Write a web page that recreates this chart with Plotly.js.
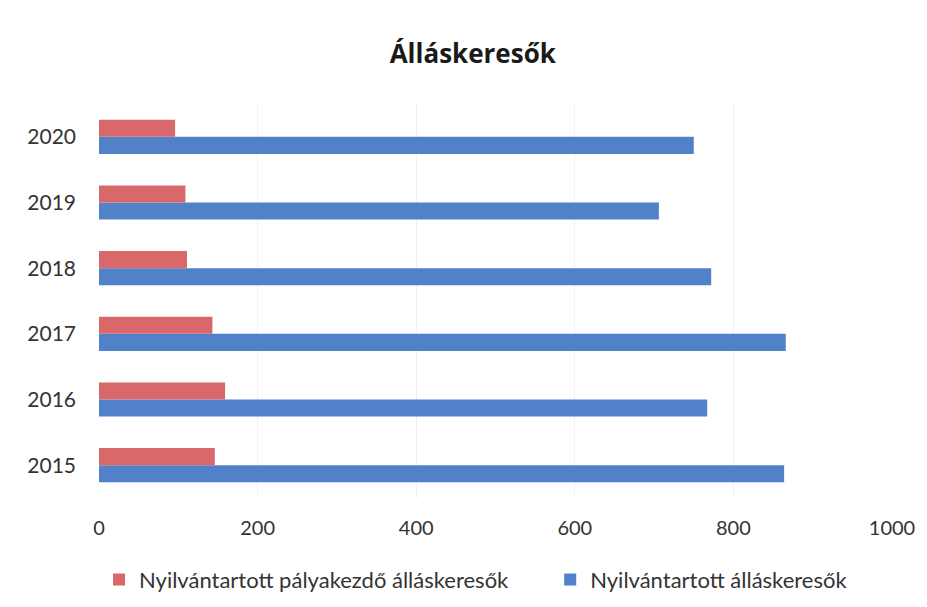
<!DOCTYPE html>
<html>
<head>
<meta charset="utf-8">
<script src="https://cdn.plot.ly/plotly-3.0.1.min.js"></script>
<style>html,body{margin:0;padding:0;background:#fff;}#chart{width:927px;height:607px;}</style>
</head>
<body>
<div id="chart"></div>
<script>
const years = ['2015', '2016', '2017', '2018', '2019', '2020'];
const palyakezdo = [146, 159, 143, 111, 109, 96];
const osszes = [864, 767, 866, 772, 706, 750];
const seriesNames = ['Nyilvántartott pályakezdő álláskeresők', 'Nyilvántartott álláskeresők'];
const xTicks = [0, 200, 400, 600, 800, 1000];

const font = "Lato, 'Open Sans', sans-serif";

const traces = [
  {
    type: 'bar', orientation: 'h', name: seriesNames[1], legend: 'legend2',
    y: years, x: osszes,
    marker: {color: '#5181C9'}, hoverinfo: 'x+y'
  },
  {
    type: 'bar', orientation: 'h', name: seriesNames[0], legend: 'legend',
    y: years, x: palyakezdo,
    marker: {color: '#D9686B'}, hoverinfo: 'x+y'
  }
];

const legendFont = {family: font, size: 22, color: '#333333'};

const layout = {
  width: 927, height: 607,
  paper_bgcolor: '#fff', plot_bgcolor: '#fff',
  margin: {l: 99, r: 35, t: 104, b: 109},
  barmode: 'group', bargap: 0.48, bargroupgap: 0,
  title: {
    text: '<b>Álláskeresők</b>',
    font: {family: "'Open Sans', sans-serif", size: 26, color: '#1a1a1a'},
    x: 0.51, xanchor: 'center', y: 0.912, yanchor: 'middle'
  },
  xaxis: {
    range: [0, 1000], tickvals: xTicks, ticktext: xTicks.map(String),
    showgrid: true, gridcolor: '#f0f0f0', gridwidth: 1,
    zeroline: false, showline: false, ticks: '',
    ticklabelstandoff: 16,
    tickfont: {family: font, size: 20, color: '#333333'}
  },
  yaxis: {
    type: 'category', categoryorder: 'array', categoryarray: years,
    showgrid: false, zeroline: false, showline: false, ticks: '',
    ticklabelstandoff: 22,
    tickfont: {family: font, size: 21, color: '#333333'}
  },
  showlegend: true,
  legend: {
    orientation: 'h',
    x: 0.0, xanchor: 'left', yref: 'container', y: 0.045, yanchor: 'middle',
    font: legendFont, itemwidth: 30
  },
  legend2: {
    orientation: 'h',
    x: 0.569, xanchor: 'left', yref: 'container', y: 0.045, yanchor: 'middle',
    font: legendFont, itemwidth: 30
  }
};

Plotly.newPlot('chart', traces, layout, {displayModeBar: false, staticPlot: true});
</script>
</body>
</html>
